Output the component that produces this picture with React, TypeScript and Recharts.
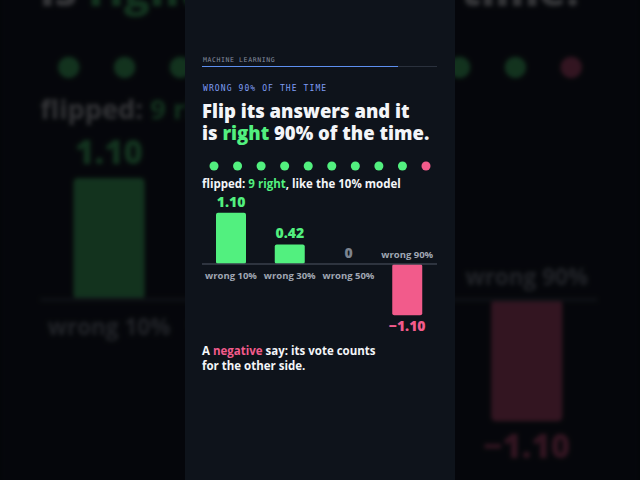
import { BarChart, Bar, XAxis, YAxis, ReferenceLine, LabelList, Cell, ScatterChart, Scatter, ZAxis } from "recharts";

const categories = ["wrong 10%", "wrong 30%", "wrong 50%", "wrong 90%"];
const says = [1.1, 0.42, 0, -1.1];
const sayLabels = ["1.10", "0.42", "0", "\u22121.10"];
const flippedOutcomes = ["right", "right", "right", "right", "right", "right", "right", "right", "right", "wrong"];

const GREEN = "#52f07f";
const PINK = "#f25b8b";
const GREY = "#a0a7b3";
const WHITE = "#f3f5f8";
const BG = "#0e131b";
const SANS = "'Open Sans', 'Noto Sans', sans-serif";
const MONO = "'DejaVu Sans Mono', monospace";

const barData = categories.map((name, i) => ({ name, say: says[i], label: sayLabels[i] }));
const dotData = flippedOutcomes.map((outcome, i) => ({ x: i, y: 0, outcome }));

function BarLabels(props: any) {
  const { x, y, width, height, value } = props;
  const d = barData.find((b) => b.name === value);
  if (!d) return null;
  const top = Math.min(y, y + height);
  const bottom = Math.max(y, y + height);
  const cx = x + width / 2;
  const neg = d.say < 0;
  const valueColor = d.say > 0 ? GREEN : d.say < 0 ? PINK : "#7c838f";
  return (
    <g fontFamily={SANS} textAnchor="middle">
      <text x={cx} y={neg ? bottom + 15.5 : top - 6} fill={valueColor} fontSize={14} fontWeight={800}>
        {d.label}
      </text>
      <text x={cx} y={neg ? top - 6 : bottom + 15} fill={GREY} fontSize={9.5} fontWeight={700}>
        {d.name}
      </text>
    </g>
  );
}

// backdrop = the dimmed, zoomed copy behind the card (video-style blur fill)
function Panel({ backdrop = false }: { backdrop?: boolean }) {
  return (
    <div style={{ position: "relative", width: 270, height: 480, background: BG, fontFamily: SANS }}>
      <div style={{ position: "absolute", left: 18, top: 56, fontFamily: MONO, fontSize: 6.5, letterSpacing: 0.6, color: "#8790a0" }}>
        MACHINE LEARNING
      </div>
      <div style={{ position: "absolute", left: 17, top: 66, width: 235, height: 1, background: "#2a313d" }} />
      <div style={{ position: "absolute", left: 17, top: 66, width: 196, height: 1, background: "#5d8ff0" }} />
      <div style={{ position: "absolute", left: 18, top: 84, fontFamily: MONO, fontSize: 8, letterSpacing: 1.1, color: "#7f9df5" }}>
        WRONG 90% OF THE TIME
      </div>
      <div style={{ position: "absolute", left: 17, top: 100, fontSize: 18.5, fontWeight: 800, lineHeight: "22px", color: WHITE, whiteSpace: "nowrap" }}>
        Flip its answers and it
        <br />
        is <span style={{ color: GREEN }}>right</span> 90% of the time.
      </div>
      <div style={{ position: "absolute", left: 0, top: 156 }}>
        <ScatterChart width={270} height={20} margin={{ top: 0, right: 29, bottom: 0, left: 29 }}>
          <XAxis type="number" dataKey="x" domain={[0, 9]} hide />
          <YAxis type="number" dataKey="y" domain={[-1, 1]} hide />
          <ZAxis range={[80, 80]} />
          <Scatter data={dotData} isAnimationActive={false}>
            {dotData.map((d, i) => (
              <Cell key={i} fill={d.outcome === "right" ? GREEN : PINK} />
            ))}
          </Scatter>
        </ScatterChart>
      </div>
      <div
        style={{
          position: "absolute",
          left: 17,
          top: 176,
          fontSize: 11.5,
          fontWeight: 700,
          color: WHITE,
          whiteSpace: "nowrap",
          ...(backdrop ? { width: 170, overflow: "hidden" } : {}),
        }}
      >
        flipped: <span style={{ color: GREEN }}>9 right</span>, like the 10% model
      </div>
      <div style={{ position: "absolute", left: 0, top: 184 }}>
        <BarChart width={270} height={160} data={barData} margin={{ top: 10, right: 18, bottom: 10, left: 17 }} barSize={30}>
          <XAxis dataKey="name" hide />
          <YAxis type="number" domain={[-1.5, 1.5]} hide />
          <ReferenceLine y={0} stroke="#3a414d" strokeWidth={1.5} />
          <Bar dataKey="say" radius={2} minPointSize={0.01} isAnimationActive={false}>
            {barData.map((d, i) => (
              <Cell key={i} fill={d.say >= 0 ? GREEN : PINK} />
            ))}
            <LabelList dataKey="name" content={BarLabels} />
          </Bar>
        </BarChart>
      </div>
      <div style={{ position: "absolute", left: 17, top: 343, fontSize: 11.5, fontWeight: 700, lineHeight: "15px", color: WHITE, whiteSpace: "nowrap" }}>
        A <span style={{ color: PINK }}>negative</span> say: its vote counts
        <br />
        for the other side.
      </div>
    </div>
  );
}

export default function App() {
  return (
    <div style={{ position: "fixed", left: 0, top: 0, width: 640, height: 480, overflow: "hidden", background: "#050609" }}>
      <div
        style={{
          position: "absolute",
          left: 185,
          top: 0,
          transform: "scale(2.37)",
          transformOrigin: "135px 238px",
          opacity: 0.3,
          filter: "blur(1px)",
        }}
      >
        <Panel backdrop />
      </div>
      <div style={{ position: "absolute", left: 0, top: 0, width: 640, height: 480, background: "rgba(3,4,6,0.35)" }} />
      <div style={{ position: "absolute", left: 185, top: 0 }}>
        <Panel />
      </div>
    </div>
  );
}
